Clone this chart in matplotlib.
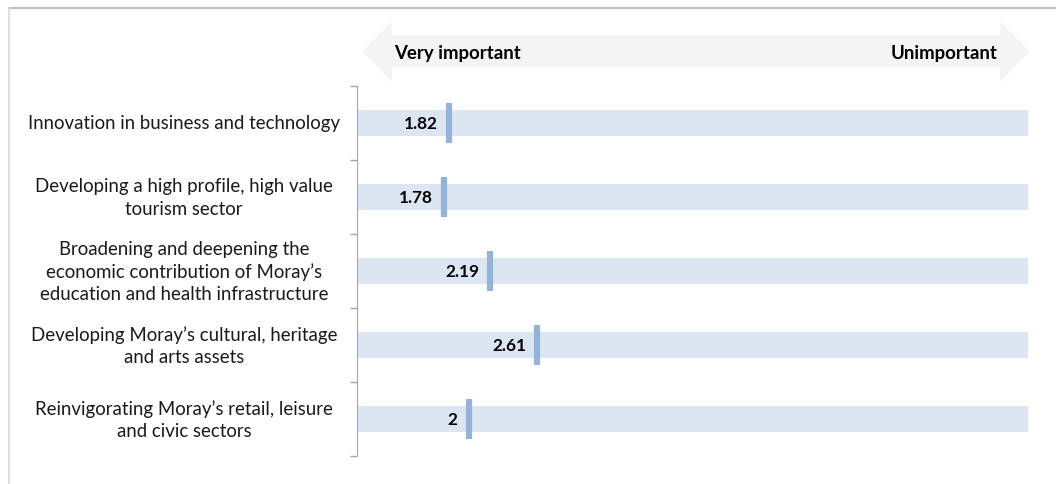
import matplotlib
matplotlib.use('Agg')
import matplotlib.pyplot as plt
from matplotlib.patches import Polygon
from matplotlib.transforms import Bbox, TransformedBbox, blended_transform_factory

plt.rcParams['font.family'] = ['Lato', 'DejaVu Sans']

categorias = [
    'Innovation in business and technology',
    'Developing a high profile, high value\ntourism sector',
    'Broadening and deepening the\neconomic contribution of Moray\u2019s\neducation and health infrastructure',
    'Developing Moray\u2019s cultural, heritage\nand arts assets',
    'Reinvigorating Moray\u2019s retail, leisure\nand civic sectors',
]
valores = [1.82, 1.78, 2.19, 2.61, 2.0]
rotulos = ['1.82', '1.78', '2.19', '2.61', '2']
escala_min, escala_max = 1, 7

W, H = 1056, 485
fig = plt.figure(figsize=(W / 100, H / 100), dpi=100)
fig.patch.set_facecolor('white')

# moldura cinza (só topo e esquerda aparecem)
fig.add_artist(plt.Line2D([9 / W, 1], [1 - 9 / H, 1 - 9 / H], transform=fig.transFigure,
                          color='#BFBFBF', lw=1.5))
fig.add_artist(plt.Line2D([9 / W, 9 / W], [0, 1 - 9 / H], transform=fig.transFigure,
                          color='#D9D9D9', lw=1.2))

ax = fig.add_axes([357 / W, 1 - 457 / H, (1028 - 357) / W, (457 - 87) / H])
ax.set_xlim(escala_min, escala_max)
ax.set_ylim(len(categorias) - 0.5, -0.5)

pos = list(range(len(categorias)))
# barras de fundo (escala toda)
ax.barh(pos, [escala_max - escala_min] * len(pos), left=escala_min, height=0.34,
        color='#DCE6F2', zorder=1)
# marcador do valor + rótulo
for y, v, r in zip(pos, valores, rotulos):
    ax.plot([v, v], [y - 0.27, y + 0.27], color='#95B3D7', lw=4.5,
            solid_capstyle='butt', zorder=3)
    ax.annotate(r, (v, y), xytext=(-8, 0), textcoords='offset points',
                ha='right', va='center', fontsize=12.3, fontweight='bold', zorder=4)

ax.set_xticks([])
ax.set_yticks(pos)
ax.set_yticklabels([])
ax.tick_params(axis='y', which='major', length=0)
ax.set_yticks([p - 0.5 for p in pos] + [pos[-1] + 0.5], minor=True)
ax.tick_params(axis='y', which='minor', length=5, color='#A6A6A6', width=1)
for s in ['top', 'right', 'bottom']:
    ax.spines[s].set_visible(False)
ax.spines['left'].set_color('#A6A6A6')

# rótulos das categorias centralizados à esquerda (o 3º é cortado no original)
trans = blended_transform_factory(fig.transFigure, ax.transData)
corte = TransformedBbox(Bbox.from_extents(0, 1 - 304 / H, 1, 1 - 242 / H), fig.transFigure)
for y, c in zip(pos, categorias):
    t = ax.text(184 / W, y, c, transform=trans, ha='center', va='center',
                fontsize=13.4, linespacing=1.38, color='#1a1a1a', clip_on=False)
    if c.count('\n') == 2:
        t.set_clip_box(corte)
        t.set_clip_on(True)

# seta dupla de fundo
pts = [(362, 52), (392, 22), (392, 36), (1000, 36), (1000, 22), (1030, 52),
       (1000, 83), (1000, 68), (392, 68), (392, 83)]
seta = Polygon([(x / W, 1 - y / H) for x, y in pts], closed=True, transform=fig.transFigure,
               facecolor='#F4F4F4', edgecolor='none', zorder=0)
fig.add_artist(seta)
fig.text(394 / W, 1 - 53 / H, 'Very important', ha='left', va='center',
         fontsize=13.4, fontweight='bold')
fig.text(997 / W, 1 - 53 / H, 'Unimportant', ha='right', va='center',
         fontsize=13.4, fontweight='bold')

plt.savefig('out.png', dpi=100)
plt.close()
